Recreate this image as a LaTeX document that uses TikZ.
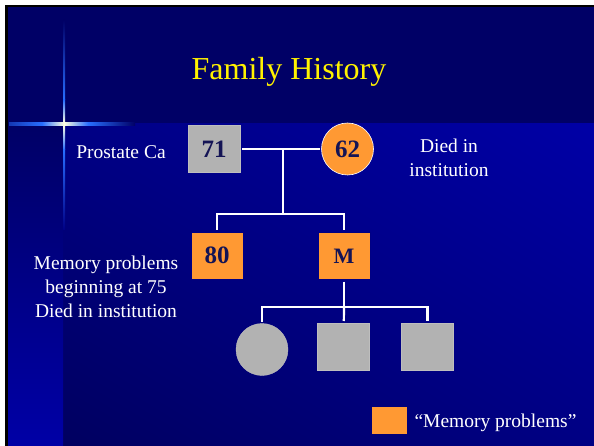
\documentclass[tikz,border=0pt]{standalone}
\usepackage{fontspec}
\setmainfont{Liberation Serif}
\usetikzlibrary{positioning,shadings}
\definecolor{bandnavy}{RGB}{0,0,102}
\definecolor{deepnavy}{RGB}{0,0,96}
\definecolor{midblue}{RGB}{0,0,132}
\definecolor{brightblue}{RGB}{0,0,166}
\definecolor{glowblue}{RGB}{40,110,255}
\definecolor{glowwhite}{RGB}{255,255,225}
\definecolor{pedorange}{RGB}{255,153,51}
\definecolor{pedgray}{RGB}{178,178,178}
\definecolor{numink}{RGB}{20,20,85}

\begin{document}
\begin{tikzpicture}[x=1pt,y=-1pt,every node/.style={align=center},
  lbl/.style={text=white,font=\fontsize{19.5}{24}\selectfont},
  num/.style={text=numink,font=\fontsize{25}{25}\selectfont\bfseries},
  male/.style={rectangle,minimum width=52pt,minimum height=47pt,inner sep=0pt,outer sep=2pt},
  female/.style={circle,minimum size=52pt,inner sep=0pt,outer sep=2pt},
  affected/.style={fill=pedorange,draw=midblue,line width=0.6pt},
  unknown/.style={fill=pedgray,draw=pedgray!85!white,line width=0.4pt},
  famline/.style={draw=white,line width=2.2pt}]
  \useasboundingbox (0,0) rectangle (594,446);
  % slide background
  \fill[white] (0,0) rectangle (594,446);
  \fill[black] (5,5) rectangle (594,446);
  \fill[bandnavy] (8,7) rectangle (594,124);
  \shade[upper left=midblue,upper right=brightblue,lower left=deepnavy,lower right=midblue] (63,124) rectangle (594,446);
  \shade[top color=bandnavy,bottom color=brightblue] (8,124) rectangle (63,446);
  % glow cross
  \shade[top color=bandnavy,bottom color=glowblue] (63,20) rectangle (65,100);
  \shade[top color=glowblue,bottom color=glowwhite] (63,100) rectangle (65,123);
  \shade[top color=glowwhite,bottom color=glowblue] (63,125) rectangle (65,150);
  \shade[top color=glowblue,bottom color=midblue] (63,150) rectangle (65,230);
  \shade[left color=glowblue!50!bandnavy,right color=glowblue] (9,122.5) rectangle (42,125.5);
  \shade[left color=glowblue,right color=glowwhite] (42,122.5) rectangle (64,125.5);
  \shade[left color=glowwhite,right color=glowblue] (64,122.5) rectangle (88,125.5);
  \shade[left color=glowblue,right color=bandnavy] (88,122.5) rectangle (135,125.5);
  \node[text=yellow,font=\fontsize{32}{32}\selectfont,anchor=base] (title) at (289,80) {Family History};

  \node[male,unknown,num] (p71) at (214,149) {71};
  \node[female,affected,draw=white,num] (p62) at (347.5,149) {62};
  \node[male,affected,num] (p80) at (217,255.5) {80};
  \node[male,affected,num,font=\fontsize{22}{22}\selectfont\bfseries] (pM) at (344,256) {M};
  \node[female,unknown] (kid1) at (262,349.5) {};
  \node[male,unknown] (kid2) at (343.5,346.5) {};
  \node[male,unknown] (kid3) at (427.5,346.5) {};

  \coordinate (mate) at (283,149);
  \coordinate (sibA) at (283,214);
  \coordinate (sibB) at (344,307);
  \draw[famline] (p71) -- (p62);
  \draw[famline] (mate) -- (sibA);
  \draw[famline] (p80) |- (sibA) -| (pM);
  \draw[famline] (pM) -- (sibB);
  \draw[famline] (kid1) |- (sibB) -| (kid3);
  \draw[famline] (sibB) -- (kid2);

  \node[lbl,anchor=base] (ca) at (121,159) {Prostate Ca};
  \node[lbl] (inst) at (449,158) {Died in\\institution};
  \node[lbl] (memo) at (106,287) {Memory problems\\beginning at 75\\Died in institution};
  \node[rectangle,fill=pedorange,minimum width=35pt,minimum height=27pt,inner sep=0pt] (key) at (389.5,420.5) {};
  \node[lbl,anchor=base west] (keytxt) at (411,427) {“Memory problems”};
\end{tikzpicture}
\end{document}
